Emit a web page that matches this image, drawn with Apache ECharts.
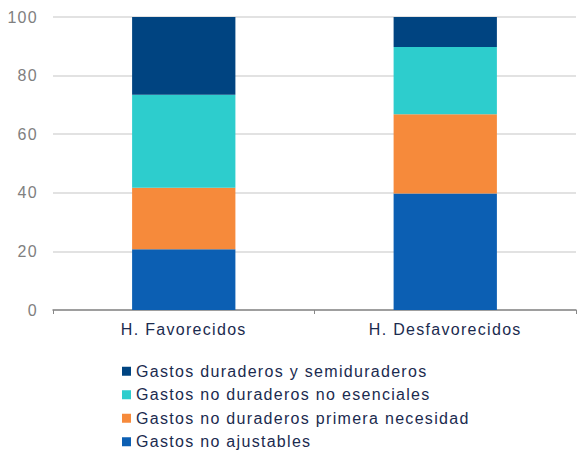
<!DOCTYPE html>
<html>
<head>
<meta charset="utf-8">
<script src="https://cdn.jsdelivr.net/npm/echarts@6/dist/echarts.min.js"></script>
<style>
  html, body { margin: 0; padding: 0; background: #ffffff; }
  #chart { width: 577px; height: 451px; }
  /* loose tracking on all chart labels */
  #chart svg text { letter-spacing: 1.3px; }
</style>
</head>
<body>
<div id="chart"></div>
<script>
// Household groups on the x axis
const categories = ['H. Favorecidos', 'H. Desfavorecidos'];

// Spending shares (%) per group, stacked bottom to top
const noAjustables = [20.7, 39.8];
const primeraNecesidad = [21.0, 27.0];
const noEsenciales = [31.8, 23.0];
const duraderos = [26.5, 10.2];

const yTicks = [0, 20, 40, 60, 80, 100];

const seriesDefs = [
  { name: 'Gastos no ajustables', data: noAjustables, color: '#0c5fb3' },
  { name: 'Gastos no duraderos primera necesidad', data: primeraNecesidad, color: '#f68a3b' },
  { name: 'Gastos no duraderos no esenciales', data: noEsenciales, color: '#2dcdcd' },
  { name: 'Gastos duraderos y semiduraderos', data: duraderos, color: '#004481' }
];

const chart = echarts.init(document.getElementById('chart'), null, { renderer: 'svg' });

chart.setOption({
  animation: false,
  backgroundColor: '#ffffff',
  textStyle: { fontFamily: 'Liberation Sans, Arial, sans-serif' },
  grid: { left: 53, right: 1, top: 17, bottom: 141, containLabel: false },
  legend: {
    orient: 'vertical',
    left: 117,
    top: 358,
    height: 120,
    itemWidth: 9,
    itemHeight: 9,
    itemGap: 7,
    icon: 'rect',
    data: [
      'Gastos duraderos y semiduraderos',
      'Gastos no duraderos no esenciales',
      'Gastos no duraderos primera necesidad',
      'Gastos no ajustables'
    ],
    textStyle: { color: '#1b2b4f', fontSize: 16, lineHeight: 16.5, padding: [0, 0, 0, 0] }
  },
  xAxis: {
    type: 'category',
    data: categories,
    axisLine: { show: true, lineStyle: { color: '#888888', width: 1.5 } },
    axisTick: { show: true, length: 4, lineStyle: { color: '#888888' } },
    axisLabel: { color: '#1b2b4f', fontSize: 16, margin: 11 }
  },
  yAxis: {
    type: 'value',
    min: 0,
    max: 100,
    interval: 20,
    axisLine: { show: false },
    axisTick: { show: false },
    axisLabel: {
      color: '#808080',
      fontSize: 16,
      margin: 15,
      formatter: v => yTicks.includes(v) ? String(v) : ''
    },
    splitLine: { lineStyle: { color: '#d9d9d9', width: 1.5 } }
  },
  series: seriesDefs.map(s => ({
    name: s.name,
    type: 'bar',
    stack: 'total',
    data: s.data,
    barWidth: '39.5%',
    itemStyle: { color: s.color },
    emphasis: { disabled: true }
  }))
});
</script>
</body>
</html>
